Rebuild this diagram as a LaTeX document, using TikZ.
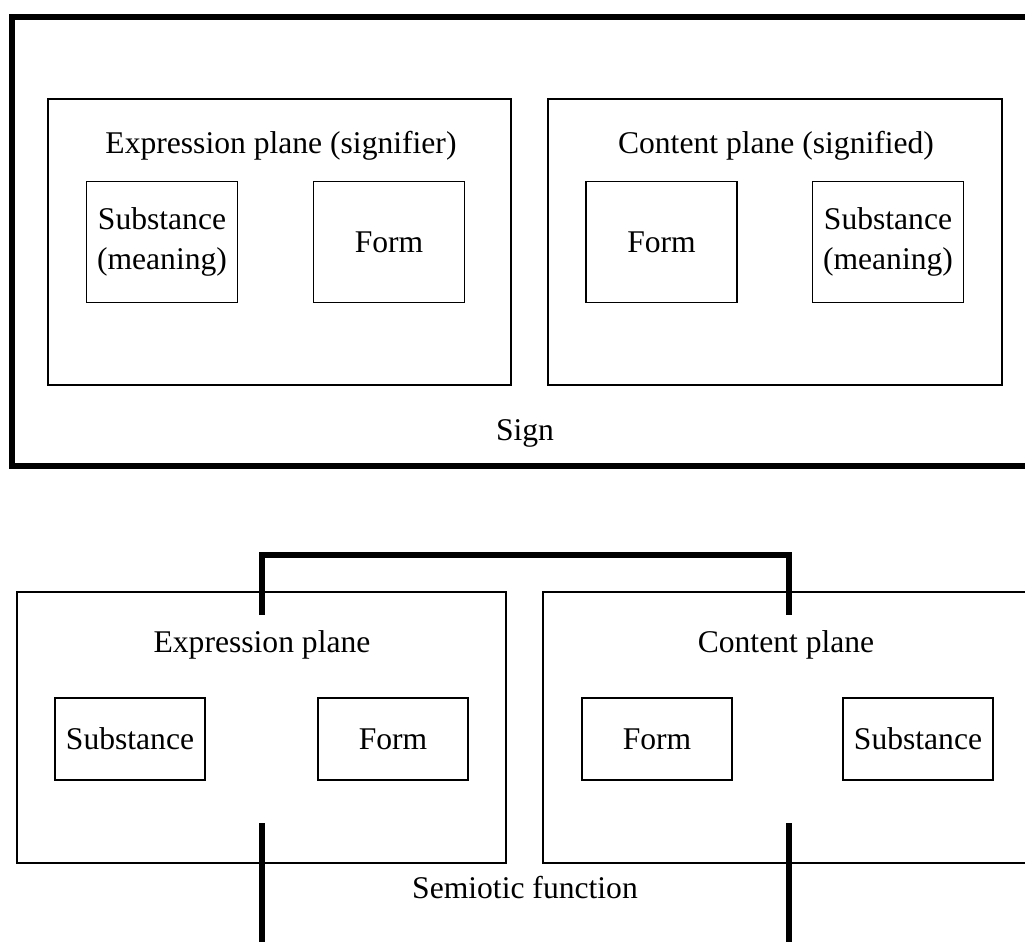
\documentclass[tikz,border=0pt]{standalone}
\usepackage{fontspec}
\setmainfont{Liberation Serif}

\begin{document}
\begin{tikzpicture}[x=0.5pt,y=-0.5pt,
        every node/.style = {font=\fontsize{15.8}{20}\selectfont, align=center},
        frame/.style = {draw, line width=0.75pt, inner sep=0pt},
        heavy/.style = {line width=2.8pt}]
        \useasboundingbox (0,0) rectangle (1025,942);
        \clip (0,0) rectangle (1025,942);

        % sign
        \node[frame, heavy, minimum width=514pt, minimum height=224.5pt] (sign) at (526,241.5) {};
        \node[frame, minimum width=231.5pt, minimum height=143pt] (expr1) at (279.5,242) {};
        \node[frame, minimum width=227pt, minimum height=143pt] (cont1) at (775,242) {};
        \node[anchor=base] (exprlbl1) at (281,153) {Expression plane (signifier)};
        \node[anchor=base] (contlbl1) at (776,153) {Content plane (signified)};
        \node[frame, minimum width=75.5pt, minimum height=60.5pt] (subs1) at (162,242) {Substance\\(meaning)};
        \node[frame, minimum width=75.5pt, minimum height=60.5pt] (form1) at (389,242) {Form};
        \node[frame, minimum width=75.5pt, minimum height=60.5pt] (form2) at (661.5,242) {Form};
        \node[frame, minimum width=75.5pt, minimum height=60.5pt] (subs2) at (888,242) {Substance\\(meaning)};
        \node[anchor=base] (signlbl) at (525,440) {Sign};

        % semiotic function
        \node[frame, minimum width=244.5pt, minimum height=135.5pt] (expr2) at (261.5,727.5) {};
        \node[frame, minimum width=248.5pt, minimum height=135.5pt] (cont2) at (791.5,727.5) {};
        \node[anchor=base] (exprlbl2) at (262,652) {Expression plane};
        \node[anchor=base] (contlbl2) at (786,652) {Content plane};
        \node[frame, minimum width=75pt, minimum height=41pt] (subs3) at (130,739) {Substance};
        \node[frame, minimum width=75pt, minimum height=41pt] (form3) at (393,739) {Form};
        \node[frame, minimum width=75pt, minimum height=41pt] (form4) at (657,739) {Form};
        \node[frame, minimum width=75pt, minimum height=41pt] (subs4) at (918,739) {Substance};
        \node[anchor=base] (semio) at (525,898) {Semiotic function};

        \coordinate (a1) at (262,615);
        \coordinate (a2) at (789,615);
        \coordinate (b1) at (262,823);
        \coordinate (b2) at (789,823);
        \coordinate (c1) at (262,960);
        \coordinate (c2) at (789,960);
        \draw[heavy] (a1) -- ++(0,-60) -| (a2);
        \draw[heavy] (b1) -- (c1);
        \draw[heavy] (b2) -- (c2);
\end{tikzpicture}
\end{document}
